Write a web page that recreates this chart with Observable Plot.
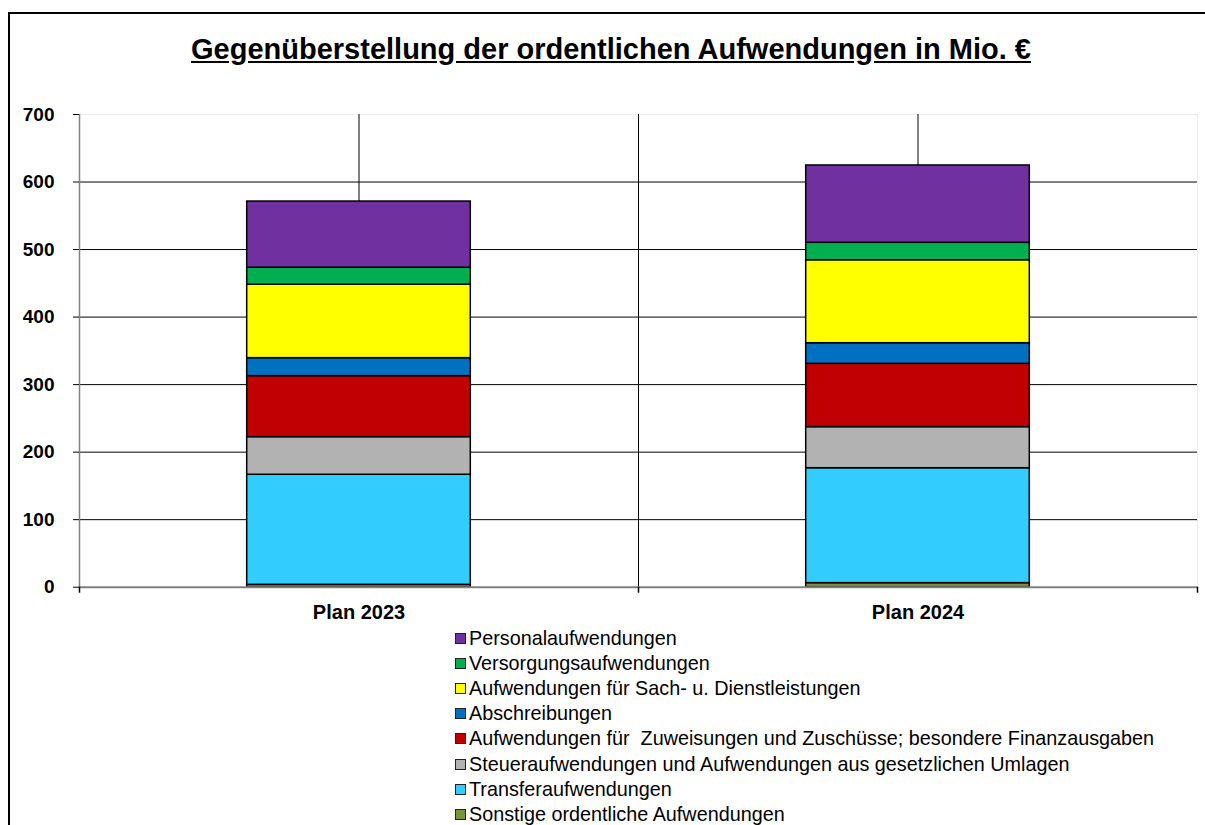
<!DOCTYPE html>
<html><head><meta charset="utf-8">
<script src="https://cdn.jsdelivr.net/npm/d3@7"></script>
<script src="https://cdn.jsdelivr.net/npm/@observablehq/plot@0.6"></script>
<style>
body{margin:0;background:#fff;font-family:"Liberation Sans",Arial,sans-serif;overflow:hidden;width:1205px;height:825px;position:relative;}
#frame{position:absolute;left:8px;top:12px;width:1400px;height:1000px;border-left:2px solid #000;border-top:2px solid #000;}
#title{position:absolute;left:0;width:1222px;top:33px;text-align:center;font-weight:bold;font-size:29px;line-height:33px;text-decoration:underline;color:#000;}
#chart{position:absolute;left:0;top:90px;}
#legend{position:absolute;left:455px;top:626px;font-size:19.8px;color:#000;}
.item{height:25.1px;display:flex;align-items:center;white-space:pre;}
.sw{width:9px;height:9px;border:1.5px solid #222;margin-right:3px;flex:none;}
</style></head><body>
<div id="frame"></div>
<div id="title">Gegenüberstellung der ordentlichen Aufwendungen in Mio. €</div>
<div id="chart"></div>
<div id="legend"></div>
<script>
const categories = ["Plan 2023", "Plan 2024"];
// series from bottom to top of the stack
const series = [
  "Sonstige ordentliche Aufwendungen",
  "Transferaufwendungen",
  "Steueraufwendungen und Aufwendungen aus gesetzlichen Umlagen",
  "Aufwendungen für  Zuweisungen und Zuschüsse; besondere Finanzausgaben",
  "Abschreibungen",
  "Aufwendungen für Sach- u. Dienstleistungen",
  "Versorgungsaufwendungen",
  "Personalaufwendungen"
];
const colors = ["#77933C", "#33CCFF", "#B2B2B2", "#C00000", "#0070C0", "#FFFF00", "#00B050", "#7030A0"];
const values2023 = [3.5, 163, 55.7, 90.4, 26.6, 108.7, 25.2, 98];
const values2024 = [6, 170.2, 60.8, 93.8, 30.5, 122.9, 25.8, 114.5];
const yTicks = [0, 100, 200, 300, 400, 500, 600, 700];

const valuesByCategory = [values2023, values2024];
const rows = [];
valuesByCategory.forEach((vals, ci) => {
  let acc = 0;
  vals.forEach((v, si) => {
    rows.push({category: categories[ci], pos: ci + 0.5, series: series[si], y1: acc, y2: acc + v});
    acc += v;
  });
});
const half = 0.2; // half bar width in category units
const centers = categories.map((c, i) => i + 0.5);
const bounds = d3.range(categories.length + 1);

const chart = Plot.plot({
  width: 1205,
  height: 540,
  marginTop: 24,
  marginBottom: 43.3,
  marginLeft: 79,
  marginRight: 8,
  style: {fontFamily: "Liberation Sans, Arial, sans-serif", background: "transparent"},
  x: {domain: [0, categories.length], axis: null},
  y: {domain: [0, 700]},
  color: {domain: series, range: colors},
  marks: [
    Plot.frame({stroke: "#ececec"}),
    Plot.ruleY(yTicks.filter(t => t > 0 && t < 700), {stroke: "#000", strokeWidth: 1}),
    Plot.ruleX(centers.concat(bounds.slice(1, -1)), {stroke: "#000", strokeWidth: 1}),
    Plot.rectY(rows, {x1: d => d.pos - half, x2: d => d.pos + half, y1: "y1", y2: "y2", fill: "series", stroke: "#000", strokeWidth: 1.5}),
    Plot.ruleY([0], {stroke: "#808080", strokeWidth: 2}),
    Plot.ruleX([0], {y1: 0, y2: 700, stroke: "#808080", strokeWidth: 1.5}),
    Plot.ruleX(bounds, {y1: 0, y2: 0, insetBottom: -6, stroke: "#000", strokeWidth: 1.5}),
    Plot.axisY({ticks: yTicks, tickSize: 6, tickPadding: 19, fontSize: 19, fontWeight: "bold", fill: "#000", stroke: "#000", label: null, tickFormat: d => String(d)}),
    Plot.text(categories, {x: (d, i) => i + 0.5, y: () => 0, dy: 25, text: d => d, fontSize: 20, fontWeight: "bold", fill: "#000"})
  ]
});
document.getElementById("chart").appendChild(chart);

const legend = document.getElementById("legend");
series.map((s, i) => ({s, c: colors[i]})).reverse().forEach(({s, c}) => {
  const item = document.createElement("div");
  item.className = "item";
  const sw = document.createElement("span");
  sw.className = "sw";
  sw.style.background = c;
  const t = document.createElement("span");
  t.textContent = s;
  item.appendChild(sw);
  item.appendChild(t);
  legend.appendChild(item);
});
</script>
</body></html>
